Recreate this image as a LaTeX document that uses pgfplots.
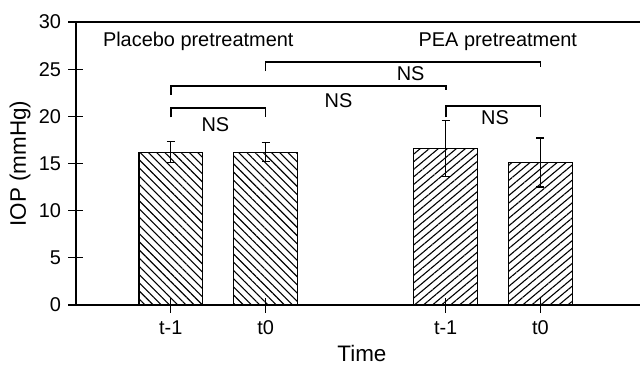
\documentclass[border=0pt]{standalone}
\usepackage{fontspec}
\setmainfont{Liberation Sans}
\usepackage{pgfplots}
\pgfplotsset{compat=1.18}
\usetikzlibrary{patterns.meta,calc}

\begin{document}
\begin{tikzpicture}
\begin{axis}[
  width=564bp, height=283bp, scale only axis,
  xmin=0, xmax=5.95, ymin=0, ymax=30,
  axis x line=box, axis y line=left,
  ytick={0,5,...,30},
  xtick={1,2,3.9,4.9}, xticklabels={t-1,t0,t-1,t0},
  /pgf/number format/assume math mode=true,
  axis line style={line width=1.6bp, -},
  tick style={black, line width=1.2bp},
  major tick length=15bp, tick align=center,
  xtick pos=bottom, ytick pos=left,
  tick label style={font=\fontsize{20}{24}\selectfont},
  yticklabel style={xshift=-4bp},
  xticklabel style={yshift=-5bp},
  label style={font=\fontsize{22.5}{26}\selectfont},
  xlabel={Time}, ylabel={IOP (mmHg)},
  xlabel style={at={(axis description cs:0.507,-0.17)}, anchor=center},
  ylabel style={at={(axis description cs:-0.0993,0.5)}, anchor=center},
  clip=false,
]
\coordinate (SW) at (rel axis cs:0,0);
\coordinate (NE) at (rel axis cs:1,1);

% Placebo pretreatment bars
\addplot[ybar, bar shift=0pt, bar width=0.67, draw=black, line width=1.1bp,
  pattern={Lines[angle=-45, distance=5.8bp, line width=1.1bp]}, pattern color=black,
  error bars/.cd, y dir=both, y explicit,
  error bar style={line width=1.2bp, black},
  error mark options={rotate=90, mark size=4bp, line width=1.2bp, black}]
  coordinates {(1,16.2) +- (0,1.1) (2,16.2) +- (0,1.0)};

% PEA pretreatment bars
\addplot[ybar, bar shift=0pt, bar width=0.67, draw=black, line width=1.1bp,
  pattern={Lines[angle=40, distance=5.8bp, line width=1.1bp]}, pattern color=black,
  error bars/.cd, y dir=both, y explicit,
  error bar style={line width=1.2bp, black},
  error mark options={rotate=90, mark size=4bp, line width=1.2bp, black}]
  coordinates {(3.9,16.6) +- (0,3.0) (4.9,15.1) +- (0,2.6)};

% significance brackets
\addplot[black, line width=1.7bp, mark=none, sharp plot] coordinates {(1,19.9) (1,20.9) (2,20.9) (2,19.9)};
\addplot[black, line width=1.7bp, mark=none, sharp plot] coordinates {(1,22.3) (1,23.2) (3.9,23.2) (3.9,22.8)};
\addplot[black, line width=1.7bp, mark=none, sharp plot] coordinates {(2,24.8) (2,25.75) (4.9,25.75) (4.9,25.2)};
\addplot[black, line width=1.7bp, mark=none, sharp plot] coordinates {(3.9,19.9) (3.9,21.1) (4.9,21.1) (4.9,19.9)};

\node[font=\fontsize{20}{24}\selectfont] at (axis cs:1.47,19.1) {NS};
\node[font=\fontsize{20}{24}\selectfont] at (axis cs:2.77,21.7) {NS};
\node[font=\fontsize{20}{24}\selectfont] at (axis cs:3.53,24.5) {NS};
\node[font=\fontsize{20}{24}\selectfont] at (axis cs:4.42,19.9) {NS};

\node[font=\fontsize{20}{24}\selectfont] at (axis cs:1.29,27.9) {Placebo pretreatment};
\node[font=\fontsize{20}{24}\selectfont] at (axis cs:4.45,27.9) {PEA pretreatment};
\end{axis}
\pgfresetboundingbox
\path[use as bounding box] ($(SW)+(-76bp,-60bp)$) rectangle ($(NE)+(2bp,22bp)$);
\end{tikzpicture}
\end{document}
